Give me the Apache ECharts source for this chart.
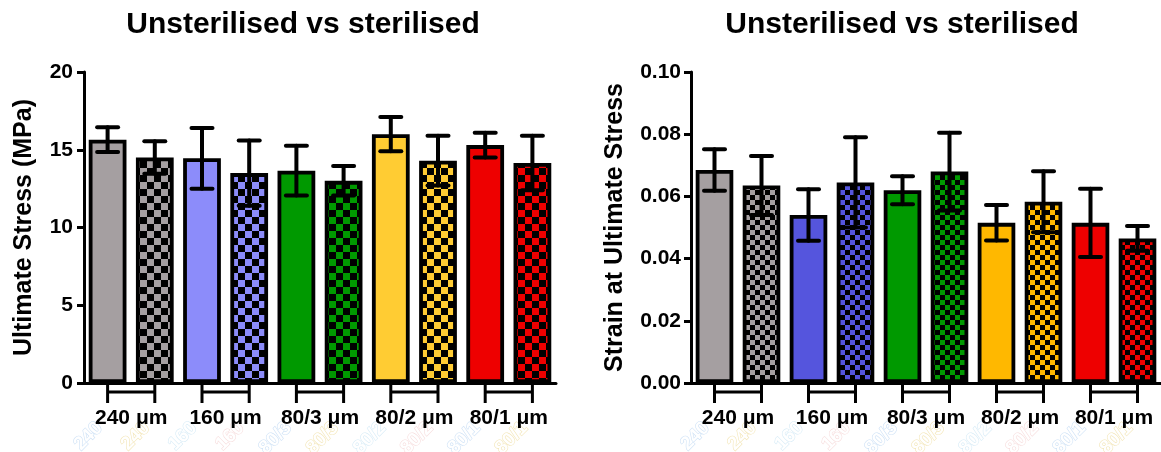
<!DOCTYPE html>
<html>
<head>
<meta charset="utf-8">
<script src="https://cdn.jsdelivr.net/npm/echarts@6.0.0/dist/echarts.min.js"></script>
<style>
  html, body { margin: 0; padding: 0; background: #fff; }
  #chart { width: 1161px; height: 452px; }
</style>
</head>
<body>
<div id="chart"></div>
<script>
const FONT = '"Liberation Sans", Arial, sans-serif';

// pairs: unsterilised (solid) then sterilised (checked)
const groups = ['240 μm', '160 μm', '80/3 μm', '80/2 μm', '80/1 μm'];
const barNames = ['240 U', '240 S', '160 U', '160 S', '80/3 U', '80/3 S', '80/2 U', '80/2 S', '80/1 U', '80/1 S'];
const faintLabels = ['240', '240', '160', '160', '80/3', '80/3', '80/2', '80/2', '80/1', '80/1'];

const stressMean = [15.65, 14.5, 14.45, 13.5, 13.65, 13.0, 16.0, 14.3, 15.3, 14.15];
const stressErr = [0.8, 1.05, 1.95, 2.1, 1.6, 0.95, 1.1, 1.6, 0.8, 1.75];

const strainMean = [0.0685, 0.0635, 0.054, 0.0645, 0.062, 0.068, 0.0515, 0.0583, 0.0515, 0.0465];
const strainErr = [0.0067, 0.0095, 0.0083, 0.0145, 0.0045, 0.0125, 0.0057, 0.0098, 0.011, 0.004];

const stressColors = ['#A59FA1', '#8C8CFA', '#009900', '#FFCC33', '#EE0000'];
const strainColors = ['#A59FA1', '#5555DD', '#009900', '#FFB800', '#EE0000'];

const stressTicks = [0, 20, 5];
const strainTicks = [0, 0.1, 0.02];

function checker(color, size) {
  const c = document.createElement('canvas');
  c.width = c.height = size * 2;
  const ctx = c.getContext('2d');
  ctx.fillStyle = '#000';
  ctx.fillRect(0, 0, size * 2, size * 2);
  ctx.fillStyle = color;
  ctx.fillRect(0, 0, size, size);
  ctx.fillRect(size, size, size, size);
  return { image: c, repeat: 'repeat' };
}

function barSeries(idx, means, colors, sq) {
  return {
    type: 'bar',
    xAxisIndex: idx,
    yAxisIndex: idx,
    barCategoryGap: '20%',
    data: means.map((v, i) => ({
      value: v,
      itemStyle: { color: i % 2 ? checker(colors[i >> 1], sq) : colors[i >> 1] }
    })),
    itemStyle: { borderColor: '#000', borderWidth: 3.8 },
    silent: true
  };
}

function errorSeries(idx, means, errs) {
  return {
    type: 'custom',
    xAxisIndex: idx,
    yAxisIndex: idx,
    z: 5,
    data: means.map((m, i) => [i, m - errs[i], m + errs[i]]),
    encode: { x: 0, y: [1, 2] },
    renderItem(params, api) {
      const lo = api.coord([api.value(0), api.value(1)]);
      const hi = api.coord([api.value(0), api.value(2)]);
      const half = 10.5;
      const style = { stroke: '#000', lineWidth: 4, lineCap: 'round' };
      return {
        type: 'group',
        children: [
          { type: 'line', shape: { x1: lo[0], y1: lo[1], x2: hi[0], y2: hi[1] }, style },
          { type: 'line', shape: { x1: hi[0] - half, y1: hi[1], x2: hi[0] + half, y2: hi[1] }, style },
          { type: 'line', shape: { x1: lo[0] - half, y1: lo[1], x2: lo[0] + half, y2: lo[1] }, style }
        ]
      };
    }
  };
}

function groupSeries(idx) {
  return {
    type: 'custom',
    xAxisIndex: idx,
    yAxisIndex: idx,
    z: 5,
    clip: false,
    data: groups.map((g, k) => [2 * k, 0, 2 * k + 1]),
    encode: { x: 0, y: 1 },
    renderItem(params, api) {
      const a = api.coord([api.value(0), 0]);
      const b = api.coord([api.value(2), 0]);
      const y = a[1];
      const style = { stroke: '#000', lineWidth: 3 };
      return {
        type: 'group',
        children: [
          { type: 'line', shape: { x1: a[0], y1: y + 2, x2: a[0], y2: y + 20 }, style },
          { type: 'line', shape: { x1: b[0], y1: y + 2, x2: b[0], y2: y + 20 }, style },
          { type: 'line', shape: { x1: a[0], y1: y + 9, x2: b[0], y2: y + 9 }, style },
          {
            type: 'text',
            style: {
              text: groups[params.dataIndex], x: (a[0] + b[0]) / 2, y: y + 35,
              align: 'center', verticalAlign: 'middle',
              font: 'bold 21px ' + FONT, fill: '#000'
            }
          }
        ]
      };
    }
  };
}

function faintSeries(idx) {
  const strokes = ['#cfe2f6', '#f3e6b8', '#d8ecf7', '#f7dede'];
  return {
    type: 'custom',
    xAxisIndex: idx,
    yAxisIndex: idx,
    z: 1,
    clip: false,
    silent: true,
    data: faintLabels.map((t, i) => [i, 0]),
    encode: { x: 0, y: 1 },
    renderItem(params, api) {
      const p = api.coord([api.value(0), 0]);
      return {
        type: 'text',
        x: p[0] - 8,
        y: p[1] + 42,
        rotation: Math.PI / 4,
        style: {
          text: faintLabels[params.dataIndex], x: 0, y: 0,
          align: 'right', verticalAlign: 'middle',
          font: 'bold 19px ' + FONT, fill: '#fff',
          stroke: strokes[params.dataIndex % 4], lineWidth: 1.2
        }
      };
    }
  };
}

function yAxis(idx, ticks, name, nameGap, margin, digits) {
  return {
    type: 'value',
    gridIndex: idx,
    min: ticks[0],
    max: ticks[1],
    interval: ticks[2],
    name: name,
    nameLocation: 'middle',
    nameGap: nameGap,
    nameTextStyle: { color: '#000', fontSize: 25, fontWeight: 'bold', fontFamily: FONT },
    axisLine: { show: true, lineStyle: { color: '#000', width: 3 } },
    axisTick: { show: true, length: 7, lineStyle: { color: '#000', width: 3 } },
    splitLine: { show: false },
    axisLabel: {
      color: '#000', fontSize: 21, fontWeight: 'bold', fontFamily: FONT, margin: margin,
      formatter: v => v.toFixed(digits)
    }
  };
}

function xAxis(idx) {
  return {
    type: 'category',
    gridIndex: idx,
    data: barNames,
    axisLine: { lineStyle: { color: '#000', width: 3 } },
    axisTick: { show: false },
    axisLabel: { show: false }
  };
}

const titleStyle = { color: '#000', fontSize: 30, fontWeight: 'bold', fontFamily: FONT };

const chart = echarts.init(document.getElementById('chart'));
chart.setOption({
  backgroundColor: '#fff',
  animation: false,
  title: [
    { text: 'Unsterilised vs sterilised', left: 298, top: 5, textAlign: 'center', textStyle: titleStyle },
    { text: 'Unsterilised vs sterilised', left: 897, top: 5, textAlign: 'center', textStyle: titleStyle }
  ],
  grid: [
    { left: 84, top: 72, width: 472, height: 311 },
    { left: 691, top: 72, width: 472, height: 311 }
  ],
  xAxis: [xAxis(0), xAxis(1)],
  yAxis: [
    yAxis(0, stressTicks, 'Ultimate Stress (MPa)', 47, 11, 0),
    yAxis(1, strainTicks, 'Strain at Ultimate Stress', 63, 10, 2)
  ],
  series: [
    faintSeries(0),
    faintSeries(1),
    barSeries(0, stressMean, stressColors, 7),
    barSeries(1, strainMean, strainColors, 5),
    errorSeries(0, stressMean, stressErr),
    errorSeries(1, strainMean, strainErr),
    groupSeries(0),
    groupSeries(1)
  ]
});
</script>
</body>
</html>
